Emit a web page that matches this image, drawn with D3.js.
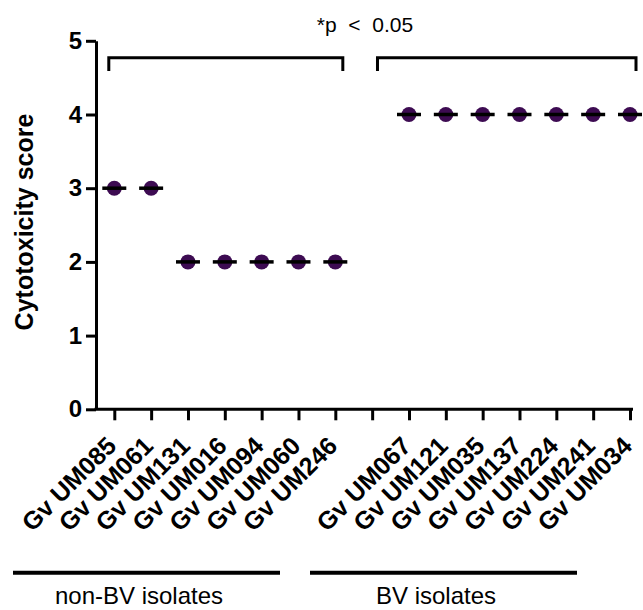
<!DOCTYPE html>
<html>
<head>
<meta charset="utf-8">
<script src="https://cdn.jsdelivr.net/npm/d3@7"></script>
<style>
  html, body { margin: 0; padding: 0; background: #fff; }
  svg { display: block; font-family: "Liberation Sans", Arial, sans-serif; }
</style>
</head>
<body>
<svg id="chart" width="643" height="610"></svg>
<script>
// ---- data ----
const nonBVIsolates = ["Gv UM085", "Gv UM061", "Gv UM131", "Gv UM016", "Gv UM094", "Gv UM060", "Gv UM246"];
const nonBVScores   = [3, 3, 2, 2, 2, 2, 2];
const bvIsolates    = ["Gv UM067", "Gv UM121", "Gv UM035", "Gv UM137", "Gv UM224", "Gv UM241", "Gv UM034"];
const bvScores      = [4, 4, 4, 4, 4, 4, 4];
const yTicks        = [0, 1, 2, 3, 4, 5];
const groupLabels   = ["non-BV isolates", "BV isolates"];
const yTitle        = "Cytotoxicity score";
const sigLabel      = "*p  <  0.05";

const gapSlot = " ";
const slots = [...nonBVIsolates, gapSlot, ...bvIsolates];
const points = nonBVIsolates.map((n, i) => ({name: n, v: nonBVScores[i]}))
  .concat(bvIsolates.map((n, i) => ({name: n, v: bvScores[i]})));

const svg = d3.select("#chart");
const axisX0 = 96, axisX1 = 633;

const x = d3.scalePoint().domain(slots).range([114.3, 630]);
const y = d3.scaleLinear().domain([0, 5]).range([409.3, 40.8]);

// y axis
const gy = svg.append("g").attr("transform", `translate(${axisX0},0)`)
  .call(d3.axisLeft(y).tickValues(yTicks).tickSize(10).tickSizeOuter(0).tickPadding(4).tickFormat(d3.format("d")));
gy.select(".domain").attr("stroke", "#000").attr("stroke-width", 3);
gy.selectAll(".tick line").attr("stroke", "#000").attr("stroke-width", 3);
gy.selectAll(".tick text").attr("font-size", 24).attr("font-weight", "bold").attr("fill", "#000")
  .attr("font-family", "Liberation Sans, Arial, sans-serif");

// x axis
const gx = svg.append("g").attr("transform", `translate(0,${y(0)})`)
  .call(d3.axisBottom(x).tickSize(11).tickSizeOuter(0));
gx.select(".domain").remove();
gx.append("line").attr("x1", axisX0 - 1.5).attr("x2", axisX1).attr("y1", 0).attr("y2", 0)
  .attr("stroke", "#000").attr("stroke-width", 3);
gx.selectAll(".tick line").attr("stroke", "#000").attr("stroke-width", 3);
gx.selectAll(".tick text")
  .attr("font-size", 25).attr("font-weight", "bold").attr("fill", "#000")
  .attr("font-family", "Liberation Sans, Arial, sans-serif")
  .attr("text-anchor", "end").attr("x", 0).attr("y", 0).attr("dy", 0)
  .attr("transform", "translate(3,38) rotate(-45)");

// y title
svg.append("text")
  .attr("transform", `translate(33,${222}) rotate(-90)`)
  .attr("text-anchor", "middle")
  .attr("font-size", 25).attr("font-weight", "bold").attr("fill", "#000")
  .text(yTitle);

// points
svg.append("g").selectAll("circle").data(points).join("circle")
  .attr("cx", d => x(d.name)).attr("cy", d => y(d.v)).attr("r", 7.5)
  .attr("fill", "#3d0b52");

// median lines
svg.append("g").selectAll("line").data(points).join("line")
  .attr("x1", d => x(d.name) - 12).attr("x2", d => x(d.name) + 12)
  .attr("y1", d => y(d.v)).attr("y2", d => y(d.v))
  .attr("stroke", "#000").attr("stroke-width", 3.5);

// significance brackets
const brackets = [
  {x1: x(nonBVIsolates[0]) - 5.5, x2: x(nonBVIsolates[nonBVIsolates.length - 1]) + 7.5},
  {x1: x(bvIsolates[0]) - 31.5, x2: x(bvIsolates[bvIsolates.length - 1]) + 6}
];
const bTop = y(4.77), bBot = y(4.59);
svg.append("g").selectAll("path").data(brackets).join("path")
  .attr("d", d => `M${d.x1},${bBot}V${bTop}H${d.x2}V${bBot}`)
  .attr("fill", "none").attr("stroke", "#000").attr("stroke-width", 3);

svg.append("text")
  .attr("x", 365).attr("y", 32).attr("text-anchor", "middle")
  .attr("font-size", 21).attr("fill", "#000")
  .style("white-space", "pre")
  .text(sigLabel);

// group lines and labels
const groups = [
  {label: groupLabels[0], x1: 13, x2: 280},
  {label: groupLabels[1], x1: 310, x2: 577}
];
svg.append("g").selectAll("line").data(groups).join("line")
  .attr("x1", d => d.x1).attr("x2", d => d.x2).attr("y1", 572.7).attr("y2", 572.7)
  .attr("stroke", "#000").attr("stroke-width", 4);
svg.append("g").selectAll("text").data(groups).join("text")
  .attr("x", (d, i) => i === 0 ? 139 : 436).attr("y", 604)
  .attr("text-anchor", "middle").attr("font-size", 24).attr("fill", "#000")
  .text(d => d.label);
</script>
</body>
</html>
